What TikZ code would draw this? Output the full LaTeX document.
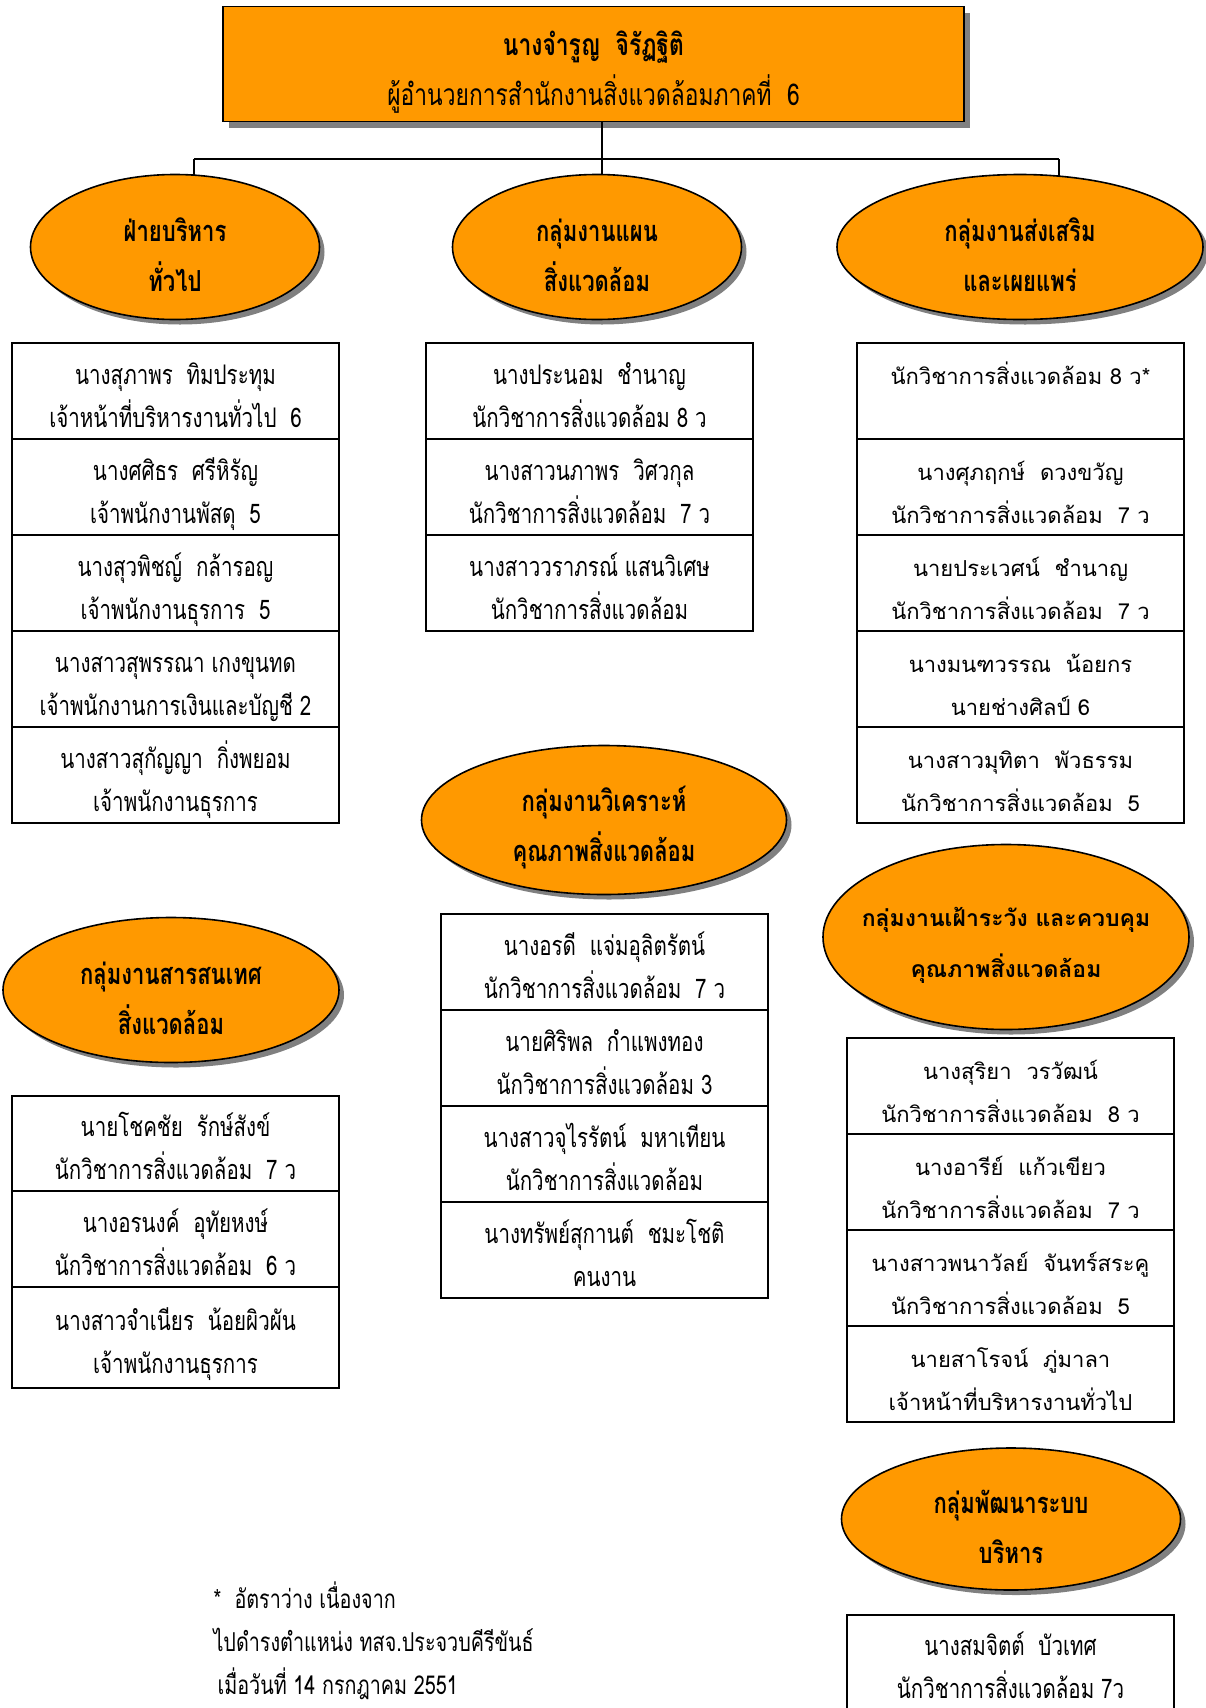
\documentclass[tikz,border=0pt]{standalone}
\usepackage{fontspec}
\newfontfamily\narrowthai[Script=Thai,FakeStretch=0.76]{Loma}
\newfontfamily\roundthai[Script=Thai]{Loma}
\usetikzlibrary{positioning,shapes.geometric,shadows}
\definecolor{deptorange}{HTML}{FF9900}

\begin{document}
\begin{tikzpicture}[x=1pt,y=-1pt,node distance=0pt,
    staff/.style={rectangle,draw,line width=1.6pt,outer sep=0pt,minimum width=327pt,
      minimum height=96pt,align=center,text height=72pt,text depth=0pt,
      font=\narrowthai\fontsize{27}{43}\selectfont},
    staffw/.style={staff,font=\roundthai\fontsize{22}{43}\selectfont},
    grp/.style={ellipse,draw,line width=1.6pt,fill=deptorange,inner sep=0pt,
      drop shadow={shadow xshift=5pt,shadow yshift=-5pt,fill=gray,opacity=1}},
    grptxt/.style={align=center,yshift=-8pt,font=\narrowthai\bfseries\fontsize{29}{50}\selectfont},
    link/.style={line width=1.6pt}]
  \useasboundingbox (0,0) rectangle (1206,1708);

  % director
  \node[rectangle,draw,line width=1.8pt,fill=deptorange,minimum width=741pt,minimum height=115pt,
    align=center,text height=82pt,text depth=0pt,font=\narrowthai\fontsize{30}{50}\selectfont,
    drop shadow={shadow xshift=6pt,shadow yshift=-6pt,fill=gray,opacity=1}]
    (boss) at (593.5,64) {\textbf{นางจำรูญ~~จิรัฏฐิติ}\\ผู้อำนวยการสำนักงานสิ่งแวดล้อมภาคที่~~6};

  % connectors
  \coordinate (hub) at (602,159);
  \coordinate (hubL) at (194,159);
  \coordinate (hubR) at (1059,159);
  \draw[link] (boss.south -| hub) -- (hub);
  \draw[link] (hubL) -- (hubR);
  \draw[link] (hubL) -- ++(0,17);
  \draw[link] (hub) -- ++(0,17);
  \draw[link] (hubR) -- ++(0,18);

  % groups
  \node[grp,minimum width=289pt,minimum height=145pt] (admin) at (175,247) {};
  \node[grptxt] (admin-t) at (admin) {ฝ่ายบริหาร\\ทั่วไป};
  \node[grp,minimum width=289pt,minimum height=145pt] (plan) at (597,247) {};
  \node[grptxt] (plan-t) at (plan) {กลุ่มงานแผน\\สิ่งแวดล้อม};
  \node[grp,minimum width=366pt,minimum height=145pt] (promo) at (1020,247) {};
  \node[grptxt] (promo-t) at (promo) {กลุ่มงานส่งเสริม\\และเผยแพร่};
  \node[grp,minimum width=365pt,minimum height=149pt] (anal) at (604,820) {};
  \node[grptxt] (anal-t) at (anal) {กลุ่มงานวิเคราะห์\\คุณภาพสิ่งแวดล้อม};
  \node[grp,minimum width=336pt,minimum height=145pt] (info) at (171,990) {};
  \node[grptxt] (info-t) at (info) {กลุ่มงานสารสนเทศ\\สิ่งแวดล้อม};
  \node[grp,minimum width=366pt,minimum height=185pt] (watch) at (1006,937) {};
  \node[grptxt,font=\roundthai\bfseries\fontsize{23}{51}\selectfont] (watch-t) at (watch)
    {กลุ่มงานเฝ้าระวัง และควบคุม\\คุณภาพสิ่งแวดล้อม};
  \node[grp,minimum width=339pt,minimum height=142pt] (devel) at (1011,1519) {};
  \node[grptxt] (devel-t) at (devel) {กลุ่มพัฒนาระบบ\\บริหาร};

  % administration staff
  \node[staff] (adm1) at (175.5,391) {นางสุภาพร~~ทิมประทุม\\เจ้าหน้าที่บริหารงานทั่วไป~~6};
  \node[staff,below=of adm1] (adm2) {นางศศิธร~~ศรีหิรัญ\\เจ้าพนักงานพัสดุ~~5};
  \node[staff,below=of adm2] (adm3) {นางสุวพิชญ์~~กล้ารอญ\\เจ้าพนักงานธุรการ~~5};
  \node[staff,below=of adm3] (adm4) {นางสาวสุพรรณา~เกงขุนทด\\เจ้าพนักงานการเงินและบัญชี 2};
  \node[staff,below=of adm4] (adm5) {นางสาวสุกัญญา~~กิ่งพยอม\\เจ้าพนักงานธุรการ};

  % planning staff
  \node[staff] (pln1) at (589.5,391) {นางประนอม~~ชำนาญ\\นักวิชาการสิ่งแวดล้อม 8 ว};
  \node[staff,below=of pln1] (pln2) {นางสาวนภาพร~~วิศวกุล\\นักวิชาการสิ่งแวดล้อม~~7 ว};
  \node[staff,below=of pln2] (pln3) {นางสาววราภรณ์~แสนวิเศษ\\นักวิชาการสิ่งแวดล้อม};

  % promotion staff
  \node[staffw] (prm1) at (1020.5,391) {นักวิชาการสิ่งแวดล้อม 8 ว*\\~};
  \node[staffw,below=of prm1] (prm2) {นางศุภฤกษ์~~ดวงขวัญ\\นักวิชาการสิ่งแวดล้อม~~7 ว};
  \node[staffw,below=of prm2] (prm3) {นายประเวศน์~~ชำนาญ\\นักวิชาการสิ่งแวดล้อม~~7 ว};
  \node[staffw,below=of prm3] (prm4) {นางมนฑวรรณ~~น้อยกร\\นายช่างศิลป์ 6};
  \node[staffw,below=of prm4] (prm5) {นางสาวมุทิตา~~พัวธรรม\\นักวิชาการสิ่งแวดล้อม~~5};

  % analysis staff
  \node[staff] (ana1) at (604.5,962) {นางอรดี~~แจ่มอุลิตรัตน์\\นักวิชาการสิ่งแวดล้อม~~7 ว};
  \node[staff,below=of ana1] (ana2) {นายศิริพล~~กำแพงทอง\\นักวิชาการสิ่งแวดล้อม 3};
  \node[staff,below=of ana2] (ana3) {นางสาวจุไรรัตน์~~มหาเทียน\\นักวิชาการสิ่งแวดล้อม};
  \node[staff,below=of ana3] (ana4) {นางทรัพย์สุกานต์~~ชมะโชติ\\คนงาน};

  % information staff
  \node[staff,minimum height=95pt] (inf1) at (175.5,1143.5) {นายโชคชัย~~รักษ์สังข์\\นักวิชาการสิ่งแวดล้อม~~7 ว};
  \node[staff,below=of inf1] (inf2) {นางอรนงค์~~อุทัยหงษ์\\นักวิชาการสิ่งแวดล้อม~~6 ว};
  \node[staff,below=of inf2,minimum height=101pt] (inf3) {นางสาวจำเนียร~~น้อยผิวผัน\\เจ้าพนักงานธุรการ};

  % monitoring staff
  \node[staffw] (mon1) at (1010.5,1086) {นางสุริยา~~วรวัฒน์\\นักวิชาการสิ่งแวดล้อม~~8 ว};
  \node[staffw,below=of mon1] (mon2) {นางอารีย์~~แก้วเขียว\\นักวิชาการสิ่งแวดล้อม~~7 ว};
  \node[staffw,below=of mon2] (mon3) {นางสาวพนาวัลย์~~จันทร์สระคู\\นักวิชาการสิ่งแวดล้อม~~5};
  \node[staffw,below=of mon3] (mon4) {นายสาโรจน์~~ภู่มาลา\\เจ้าหน้าที่บริหารงานทั่วไป};

  % development staff
  \node[staff,minimum height=100pt,text height=66pt] (dev1) at (1010.5,1665) {นางสมจิตต์~~บัวเทศ\\นักวิชาการสิ่งแวดล้อม 7ว};

  % note
  \node[align=left,anchor=north west,font=\narrowthai\fontsize{26}{43}\selectfont] (note) at (210,1578)
    {*~~อัตราว่าง เนื่องจาก\\ไปดำรงตำแหน่ง ทสจ.ประจวบคีรีขันธ์\\\hspace{4pt}เมื่อวันที่ 14 กรกฎาคม 2551};
\end{tikzpicture}
\end{document}
